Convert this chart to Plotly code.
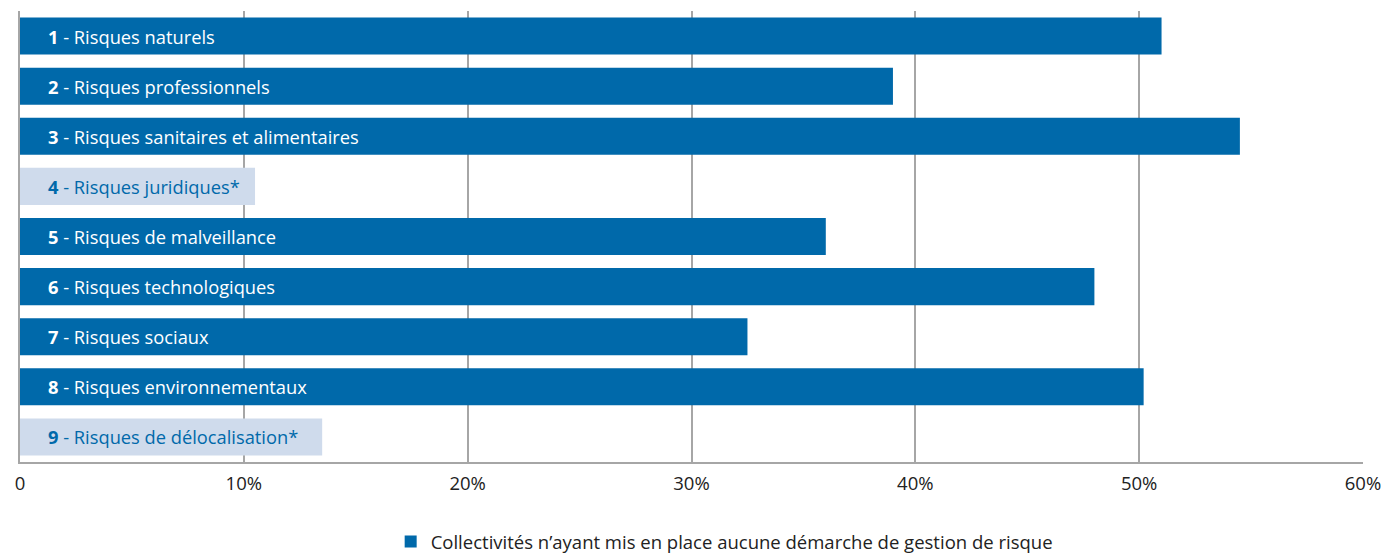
import plotly.graph_objects as go

numbers = ["1", "2", "3", "4", "5", "6", "7", "8", "9"]
categories = [
    "Risques naturels",
    "Risques professionnels",
    "Risques sanitaires et alimentaires",
    "Risques juridiques*",
    "Risques de malveillance",
    "Risques technologiques",
    "Risques sociaux",
    "Risques environnementaux",
    "Risques de délocalisation*",
]
values = [51.0, 39.0, 54.5, 10.5, 36.0, 48.0, 32.5, 50.2, 13.5]
highlight = [False, False, False, True, False, False, False, False, True]
tick_vals = [0, 10, 20, 30, 40, 50, 60]
tick_text = ["0", "10%", "20%", "30%", "40%", "50%", "60%"]
legend_name = "Collectivités n’ayant mis en place aucune démarche de gestion de risque"

DARK = "#0069AA"
LIGHT = "#CFDBEC"
FONT = "Open Sans"

ykeys = [f"{n} - {c}" for n, c in zip(numbers, categories)]
colors = [LIGHT if h else DARK for h in highlight]

fig = go.Figure()
fig.add_trace(go.Bar(
    x=values, y=ykeys, orientation="h",
    marker=dict(color=colors, line=dict(width=0)),
    name=legend_name, showlegend=True, hoverinfo="x+y",
))

for k, n, c, h in zip(ykeys, numbers, categories, highlight):
    col = DARK if h else "white"
    fig.add_annotation(
        x=0, y=k, xref="x", yref="y", xanchor="left", yanchor="middle",
        xshift=26, showarrow=False,
        text=f"<b>{n}</b> - {c}",
        font=dict(family=FONT, size=18.3, color=col),
    )

fig.update_layout(
    width=1386, height=553,
    margin=dict(l=20, r=23, t=11, b=91, autoexpand=False),
    plot_bgcolor="white", paper_bgcolor="white",
    bargap=0.26,
    font=dict(family=FONT, size=18, color="#222222"),
    legend=dict(
        orientation="h", x=0.276, y=-0.135, xanchor="left", yanchor="top",
        font=dict(family=FONT, size=18.5, color="#222222"),
        bgcolor="rgba(0,0,0,0)",
    ),
    xaxis=dict(
        range=[0, 60], tickvals=tick_vals, ticktext=tick_text,
        showgrid=True, gridcolor="#A6A6A6", gridwidth=1.5,
        showline=True, linecolor="#A6A6A6", linewidth=2,
        zeroline=False, ticks="", ticklabelstandoff=4,
        tickfont=dict(family=FONT, size=18.5, color="#222222"),
        fixedrange=True, automargin=False,
    ),
    yaxis=dict(
        autorange="reversed", showticklabels=False, showgrid=False,
        showline=True, linecolor="#A6A6A6", linewidth=2, ticks="",
        fixedrange=True, automargin=False,
    ),
)

fig.write_html("out.html")
